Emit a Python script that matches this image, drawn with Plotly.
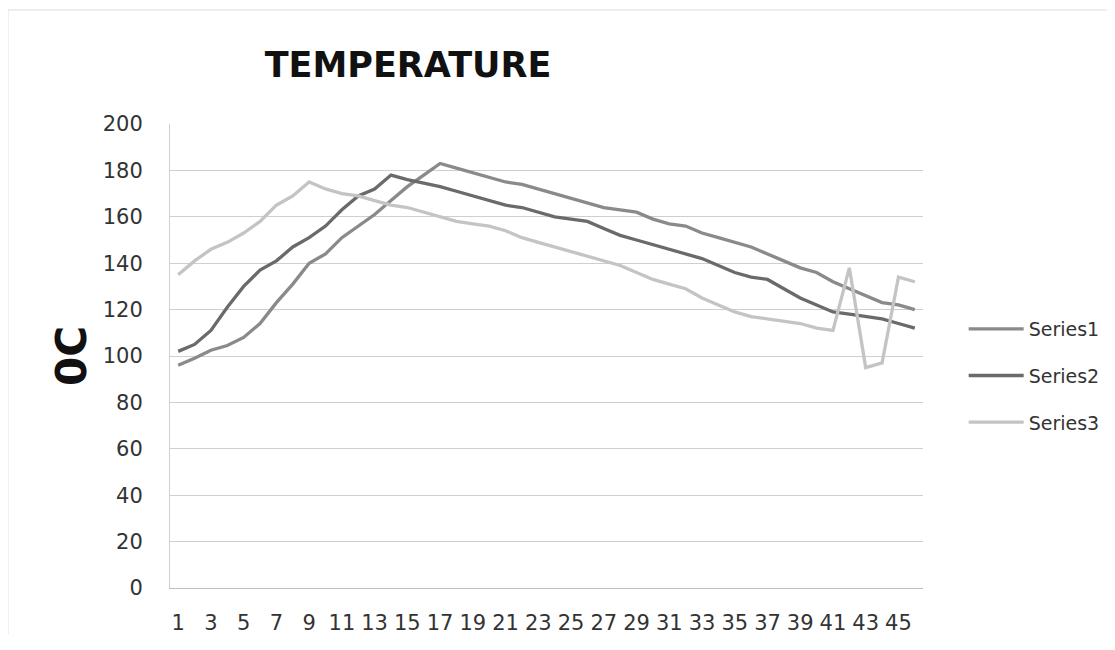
import plotly.graph_objects as go

categories = list(range(1, 47))
series1 = [96, 99, 102.5, 104.5, 108, 114, 123, 131, 140, 144, 151, 156, 161, 167, 173, 178, 183,
           181, 179, 177, 175, 174, 172, 170, 168, 166, 164, 163, 162, 159, 157, 156, 153, 151,
           149, 147, 144, 141, 138, 136, 132, 129, 126, 123, 122, 120]
series2 = [102, 105, 111, 121, 130, 137, 141, 147, 151, 156, 163, 169, 172, 178, 176, 174.5, 173,
           171, 169, 167, 165, 164, 162, 160, 159, 158, 155, 152, 150, 148, 146, 144, 142, 139,
           136, 134, 133, 129, 125, 122, 119, 118, 117, 116, 114, 112]
series3 = [135, 141, 146, 149, 153, 158, 165, 169, 175, 172, 170, 169, 167, 165, 164, 162, 160,
           158, 157, 156, 154, 151, 149, 147, 145, 143, 141, 139, 136, 133, 131, 129, 125, 122,
           119, 117, 116, 115, 114, 112, 111, 138, 95, 97, 134, 132]
series_names = ["Series1", "Series2", "Series3"]
tick_labels = [str(i) for i in range(1, 47, 2)]
y_ticks = list(range(0, 201, 20))

colors = ["#8a8a8a", "#6a6a6a", "#c4c4c4"]
FONT = "DejaVu Sans, sans-serif"

W, H = 1107, 642
ML, MT, PW, PH = 162, 116, 753, 464

fig = go.Figure()
for name, vals, col in zip(series_names, [series1, series2, series3], colors):
    fig.add_trace(go.Scatter(x=categories, y=vals, mode="lines", name=name,
                             legendgroup=name,
                             line=dict(color=col, width=3.3)))

fig.update_layout(
    width=W, height=H,
    paper_bgcolor="white", plot_bgcolor="white",
    margin=dict(l=ML, r=W - ML - PW, t=MT, b=H - MT - PH, autoexpand=False),
    title=dict(text="<b>TEMPERATURE</b>", x=400/W, xref="container", xanchor="center",
               y=1-57/H, yref="container", yanchor="middle",
               font=dict(family=FONT, size=35, color="#111111")),
    showlegend=True,
    legend=dict(x=1.054, y=0.457, xanchor="left", yanchor="middle",
                font=dict(family=FONT, size=19, color="#333333"),
                tracegroupgap=19, itemwidth=55, bgcolor="rgba(0,0,0,0)"),
    font=dict(family=FONT, color="#333333"),
)
fig.update_xaxes(range=[0.5, 46.5], tickvals=list(range(1, 47, 2)), ticktext=tick_labels,
                 showgrid=False, showline=True, linecolor="#bdbdbd", linewidth=1,
                 ticks="", ticklabelstandoff=16,
                 tickfont=dict(family=FONT, size=21, color="#333333"), zeroline=False)
fig.update_yaxes(range=[0, 200], tickvals=y_ticks, showgrid=True, gridcolor="#cfcfcf",
                 gridwidth=1, showline=True, linecolor="#d0d0d0", linewidth=1, ticks="",
                 ticklabelstandoff=22,
                 tickfont=dict(family=FONT, size=21, color="#333333"), zeroline=False)
fig.add_annotation(text="<b>0C</b>", xref="paper", yref="paper", x=(63-ML)/PW, y=0.5,
                   xanchor="center", yanchor="middle", textangle=-90, showarrow=False,
                   font=dict(family=FONT, size=42, color="#111111"))
fig.add_shape(type="line", xref="paper", yref="paper", x0=-ML/PW, x1=(W-ML)/PW,
              y0=1+(MT-2)/PH, y1=1+(MT-2)/PH, line=dict(color="#dddddd", width=1))
fig.add_shape(type="line", xref="paper", yref="paper", x0=-ML/PW, x1=-ML/PW,
              y0=1+(MT-2)/PH, y1=-0.1, line=dict(color="#e2e2e2", width=1))
fig.write_html("out.html")
